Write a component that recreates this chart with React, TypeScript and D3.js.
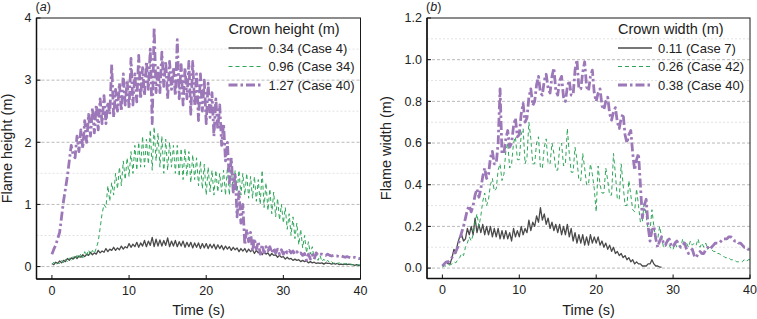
import React from "react";
import * as d3 from "d3";

const STEP = 0.25;

// Panel (a): flame height (m), one row per second (4 samples) — last value at 40 s
const heightCase4 = [
  0.05,0.03,0.07,0.05, 0.09,0.06,0.1,0.08, 0.13,0.1,0.14,0.12, 0.16,0.13,0.17,0.15, 0.19,0.16,0.2,0.18,
  0.23,0.19,0.22,0.2, 0.26,0.22,0.25,0.23, 0.29,0.24,0.28,0.26, 0.31,0.26,0.3,0.27, 0.33,0.28,0.32,0.3,
  0.37,0.31,0.36,0.32, 0.39,0.31,0.38,0.33, 0.42,0.32,0.41,0.34, 0.47,0.32,0.44,0.33, 0.43,0.33,0.42,0.34,
  0.46,0.32,0.41,0.33, 0.42,0.32,0.4,0.33, 0.41,0.31,0.39,0.32, 0.39,0.3,0.38,0.31, 0.38,0.29,0.37,0.3,
  0.37,0.29,0.36,0.3, 0.36,0.28,0.35,0.29, 0.34,0.27,0.33,0.28, 0.32,0.26,0.31,0.27, 0.3,0.24,0.29,0.25,
  0.29,0.23,0.28,0.24, 0.27,0.21,0.26,0.22, 0.25,0.19,0.24,0.2, 0.22,0.17,0.21,0.18, 0.19,0.15,0.18,0.15,
  0.16,0.12,0.15,0.12, 0.13,0.1,0.12,0.1, 0.11,0.08,0.1,0.08, 0.09,0.06,0.08,0.06, 0.07,0.05,0.06,0.05,
  0.06,0.04,0.06,0.05, 0.05,0.04,0.05,0.04, 0.05,0.03,0.04,0.03, 0.04,0.03,0.04,0.03, 0.03,0.02,0.03,0.02,
  0.02];
const heightCase34 = [
  0.04,0.07,0.03,0.06, 0.05,0.1,0.06,0.12, 0.08,0.14,0.1,0.16, 0.11,0.18,0.13,0.21, 0.14,0.24,0.17,0.27,
  0.19,0.26,0.21,0.3, 0.4,0.62,0.85,1.0, 0.95,1.3,1.05,1.35, 1.15,1.5,1.25,1.6, 1.3,1.7,1.4,1.75,
  1.45,1.85,1.5,1.95, 1.55,2.0,1.6,2.1, 1.6,2.05,1.65,2.2, 1.55,2.25,1.7,2.15, 1.6,2.1,1.5,2.05,
  1.55,2.0,1.6,1.95, 1.5,1.95,1.45,1.9, 1.4,1.9,1.45,1.85, 1.35,1.8,1.4,1.75, 1.3,1.7,1.25,1.65,
  1.15,1.6,1.2,1.55, 1.15,1.55,1.2,1.5, 1.2,1.55,1.15,1.6, 1.15,1.6,1.2,1.55, 1.2,1.55,1.15,1.5,
  1.15,1.5,1.1,1.45, 1.1,1.45,1.05,1.4, 1.0,1.55,0.95,1.35, 0.9,1.25,0.85,1.2, 0.8,1.1,0.75,1.0,
  0.7,0.95,0.6,0.85, 0.5,0.8,0.45,0.7, 0.35,0.6,0.3,0.5, 0.22,0.4,0.2,0.32, 0.12,0.22,0.1,0.18,
  0.08,0.12,0.07,0.1, 0.06,0.08,0.05,0.07, 0.05,0.06,0.04,0.05, 0.04,0.05,0.03,0.04, 0.03,0.03,0.02,0.03,
  0.02];
const heightCase40 = [
  0.2,0.28,0.35,0.45, 0.55,0.8,1.05,1.25, 1.45,1.7,1.95,1.8, 1.75,2.1,1.85,2.2, 1.9,2.35,2.0,2.45,
  2.1,2.55,2.15,2.6, 2.2,2.7,2.3,2.75, 2.3,2.65,2.45,3.25, 2.4,2.85,2.5,2.95, 2.5,3.1,2.6,3.0,
  2.55,3.35,2.6,3.1, 2.65,3.4,2.7,3.2, 2.75,3.3,2.85,3.5, 2.3,3.85,2.8,3.2, 2.8,3.45,2.9,3.3,
  2.7,3.3,2.85,3.2, 2.75,3.65,2.7,3.25, 2.6,3.2,2.7,3.3, 2.45,3.3,2.6,3.1, 2.35,3.1,2.5,3.0,
  2.3,2.95,2.4,2.8, 2.1,2.7,2.2,2.6, 1.95,2.3,1.7,2.0, 1.35,1.75,1.2,1.5, 0.8,1.2,0.7,1.0,
  0.35,0.6,0.4,0.55, 0.25,0.45,0.28,0.4, 0.2,0.35,0.22,0.32, 0.25,0.32,0.22,0.3, 0.22,0.28,0.2,0.27,
  0.2,0.27,0.22,0.26, 0.22,0.25,0.2,0.24, 0.2,0.22,0.18,0.21, 0.1,0.2,0.12,0.19, 0.12,0.22,0.18,0.2,
  0.2,0.19,0.18,0.2, 0.18,0.17,0.18,0.17, 0.17,0.16,0.17,0.16, 0.15,0.16,0.15,0.14, 0.14,0.15,0.14,0.13,
  0.13];

// Panel (b): flame width (m)
const widthCase7 = [
  0.01,0.02,0.03,0.02, 0.02,0.05,0.09,0.07, 0.12,0.15,0.16,0.13, 0.14,0.19,0.16,0.2, 0.16,0.24,0.17,0.21,
  0.17,0.21,0.16,0.2, 0.16,0.2,0.15,0.19, 0.15,0.19,0.14,0.18, 0.14,0.18,0.14,0.17, 0.13,0.19,0.15,0.18,
  0.15,0.2,0.16,0.19, 0.17,0.23,0.18,0.22, 0.2,0.25,0.22,0.29, 0.23,0.26,0.21,0.24, 0.19,0.22,0.18,0.21,
  0.17,0.21,0.16,0.2, 0.16,0.21,0.15,0.19, 0.13,0.17,0.12,0.16, 0.12,0.16,0.11,0.15, 0.11,0.16,0.12,0.15,
  0.12,0.15,0.11,0.13, 0.1,0.12,0.09,0.11, 0.08,0.1,0.07,0.08, 0.06,0.07,0.05,0.06, 0.04,0.05,0.03,0.04,
  0.02,0.03,0.02,0.02, 0.01,0.01,0.01,0.02, 0.02,0.04,0.02,0.01, 0.01,0.005,0.005];
const widthCase42 = [
  0.005,0.01,0.01,0.015, 0.015,0.02,0.03,0.025, 0.04,0.05,0.07,0.06, 0.1,0.12,0.15,0.13, 0.16,0.22,0.26,0.2,
  0.25,0.32,0.36,0.3, 0.33,0.4,0.43,0.37, 0.38,0.47,0.5,0.42, 0.45,0.56,0.6,0.48, 0.5,0.6,0.63,0.52,
  0.52,0.64,0.67,0.5, 0.53,0.7,0.62,0.5, 0.5,0.6,0.63,0.48, 0.48,0.58,0.62,0.5, 0.5,0.6,0.55,0.47,
  0.47,0.58,0.6,0.49, 0.5,0.67,0.55,0.46, 0.46,0.58,0.52,0.42, 0.42,0.55,0.48,0.4, 0.4,0.5,0.45,0.38,
  0.27,0.49,0.4,0.36, 0.36,0.48,0.42,0.35, 0.35,0.55,0.45,0.33, 0.33,0.5,0.4,0.3, 0.3,0.42,0.35,0.28,
  0.27,0.38,0.3,0.22, 0.22,0.32,0.25,0.18, 0.18,0.28,0.2,0.14, 0.14,0.2,0.15,0.1, 0.1,0.14,0.11,0.09,
  0.09,0.12,0.1,0.11, 0.1,0.14,0.11,0.12, 0.1,0.13,0.11,0.12, 0.11,0.14,0.1,0.12, 0.1,0.12,0.09,0.1,
  0.09,0.08,0.08,0.07, 0.07,0.06,0.06,0.05, 0.05,0.05,0.04,0.04, 0.04,0.03,0.03,0.03, 0.03,0.04,0.03,0.04,
  0.04];
const widthCase40 = [
  0.01,0.02,0.03,0.03, 0.04,0.05,0.07,0.08, 0.1,0.14,0.17,0.2, 0.24,0.28,0.3,0.27, 0.3,0.35,0.38,0.34,
  0.38,0.44,0.48,0.43, 0.45,0.53,0.56,0.5, 0.5,0.6,0.86,0.55, 0.55,0.62,0.66,0.58, 0.6,0.68,0.72,0.63,
  0.64,0.74,0.79,0.7, 0.72,0.82,0.86,0.78, 0.8,0.88,0.92,0.84, 0.83,0.9,0.93,0.86, 0.84,0.92,0.96,0.85,
  0.83,0.9,0.92,0.82, 0.8,0.87,0.9,0.83, 0.83,0.95,1.0,0.86, 0.86,0.94,0.99,0.87, 0.85,0.92,0.95,0.84,
  0.8,0.84,0.86,0.78, 0.76,0.8,0.82,0.74, 0.71,0.75,0.77,0.7, 0.67,0.72,0.74,0.64, 0.6,0.64,0.66,0.55,
  0.47,0.52,0.55,0.4, 0.24,0.3,0.33,0.2, 0.13,0.18,0.2,0.14, 0.1,0.13,0.15,0.12, 0.11,0.13,0.14,0.11,
  0.1,0.12,0.13,0.11, 0.1,0.11,0.12,0.09, 0.07,0.08,0.09,0.06, 0.05,0.07,0.08,0.07, 0.07,0.09,0.1,0.09,
  0.1,0.11,0.12,0.12, 0.12,0.13,0.14,0.14, 0.14,0.15,0.15,0.14, 0.13,0.13,0.12,0.12, 0.11,0.1,0.1,0.09,
  0.09];

const xTicks = [0, 10, 20, 30, 40];
const heightTicks = [0, 1, 2, 3, 4];
const heightMinor = [0.5, 1.5, 2.5, 3.5];
const widthTicks = [0, 0.2, 0.4, 0.6, 0.8, 1.0, 1.2];
const widthMinor = [0.1, 0.3, 0.5, 0.7, 0.9, 1.1];

const heightLabels = ["0.34 (Case 4)", "0.96 (Case 34)", "1.27 (Case 40)"];
const widthLabels = ["0.11 (Case 7)", "0.26 (Case 42)", "0.38 (Case 40)"];

const COLORS = ["#4a4a4a", "#2fa65a", "#9c78b8"];
const STYLES = [
  { w: 1.3, dash: "none" },
  { w: 1, dash: "4,3" },
  { w: 2.8, dash: "9,3,2.5,3" },
];

const FONT = "'Liberation Sans', Arial, Helvetica, sans-serif";

type PanelProps = {
  x0: number; x1: number; y0: number; y1: number;
  yDomain: [number, number];
  ticks: number[]; minor: number[]; fmt: (v: number) => string;
  series: number[][]; labels: string[]; letter: string;
  yTitle: string; legendTitle: string; yTitleX: number;
};

function Panel(p: PanelProps) {
  const x = d3.scaleLinear().domain([-2, 40]).range([p.x0, p.x1]);
  const y = d3.scaleLinear().domain(p.yDomain).range([p.y1, p.y0]);
  const line = d3.line<number>().x((_, i) => x(i * STEP)).y((d) => y(d));
  const lx = p.x1 - 132;
  return (
    <g fontFamily={FONT}>
      <clipPath id={"clip" + p.letter}>
        <rect x={p.x0} y={p.y0} width={p.x1 - p.x0} height={p.y1 - p.y0} />
      </clipPath>
      {p.minor.map((v) => (
        <line key={"m" + v} x1={p.x0} x2={p.x1} y1={y(v)} y2={y(v)} stroke="#dcdcdc" strokeWidth={0.8} strokeDasharray="2,2" />
      ))}
      {p.ticks.filter((v) => v < p.yDomain[1]).map((v) => (
        <line key={"g" + v} x1={p.x0} x2={p.x1} y1={y(v)} y2={y(v)} stroke="#a8a8a8" strokeWidth={0.8} strokeDasharray="3,2" />
      ))}
      <g clipPath={`url(#clip${p.letter})`}>
        {p.series.map((s, i) => (
          <path key={i} d={line(s) || ""} fill="none" stroke={COLORS[i]} strokeWidth={STYLES[i].w}
            strokeDasharray={STYLES[i].dash} strokeLinejoin="round" />
        ))}
      </g>
      <rect x={p.x0} y={p.y0} width={p.x1 - p.x0} height={p.y1 - p.y0} fill="none" stroke="#1a1a1a" strokeWidth={1} />
      <line x1={p.x0} x2={p.x0} y1={p.y0} y2={p.y1} stroke="#111" strokeWidth={1.5} />
      <line x1={p.x0} x2={p.x1} y1={p.y1} y2={p.y1} stroke="#111" strokeWidth={1.5} />
      {p.ticks.map((v) => (
        <g key={"t" + v}>
          <line x1={p.x0} x2={p.x0 + 4} y1={y(v)} y2={y(v)} stroke="#111" />
          <text x={p.x0 - 5} y={y(v) + 4.3} fontSize={12.5} textAnchor="end" fill="#222">{p.fmt(v)}</text>
        </g>
      ))}
      {xTicks.map((v) => (
        <g key={"x" + v}>
          <line x1={x(v)} x2={x(v)} y1={p.y1} y2={p.y1 - 4} stroke="#111" />
          <text x={x(v)} y={p.y1 + 15.5} fontSize={12.5} textAnchor="middle" fill="#222">{v}</text>
        </g>
      ))}
      <text x={(p.x0 + p.x1) / 2} y={315} fontSize={14.5} textAnchor="middle" fill="#222">Time (s)</text>
      <text transform={`translate(${p.yTitleX},${(p.y0 + p.y1) / 2}) rotate(-90)`} fontSize={14.5} textAnchor="middle" fill="#222">{p.yTitle}</text>
      <text x={p.x0 - 1} y={11} fontSize={12.5} fill="#222">(<tspan fontStyle="italic">{p.letter}</tspan>)</text>
      <text x={lx} y={34} fontSize={14.5} fill="#222">{p.legendTitle}</text>
      {p.labels.map((l, i) => (
        <g key={l}>
          <line x1={lx} x2={lx + 34} y1={48 + i * 18.5} y2={48 + i * 18.5} stroke={COLORS[i]}
            strokeWidth={STYLES[i].w} strokeDasharray={STYLES[i].dash} />
          <text x={lx + 40} y={52.5 + i * 18.5} fontSize={13} fill="#222">{l}</text>
        </g>
      ))}
    </g>
  );
}

export default function App() {
  return (
    <svg width={757} height={319} style={{ position: "absolute", left: 0, top: 0, background: "#fff" }}>
      <Panel x0={36.5} x1={360.5} y0={18} y1={279} yDomain={[-0.2, 4]} ticks={heightTicks} minor={heightMinor}
        fmt={(v) => String(v)} series={[heightCase4, heightCase34, heightCase40]} labels={heightLabels}
        letter="a" yTitle="Flame height (m)" legendTitle="Crown height (m)" yTitleX={12} />
      <Panel x0={427} x1={750} y0={18} y1={278.5} yDomain={[-0.05, 1.2]} ticks={widthTicks} minor={widthMinor}
        fmt={(v) => v.toFixed(1)} series={[widthCase7, widthCase42, widthCase40]} labels={widthLabels}
        letter="b" yTitle="Flame width (m)" yTitleX={391} legendTitle="Crown width (m)" />
    </svg>
  );
}
